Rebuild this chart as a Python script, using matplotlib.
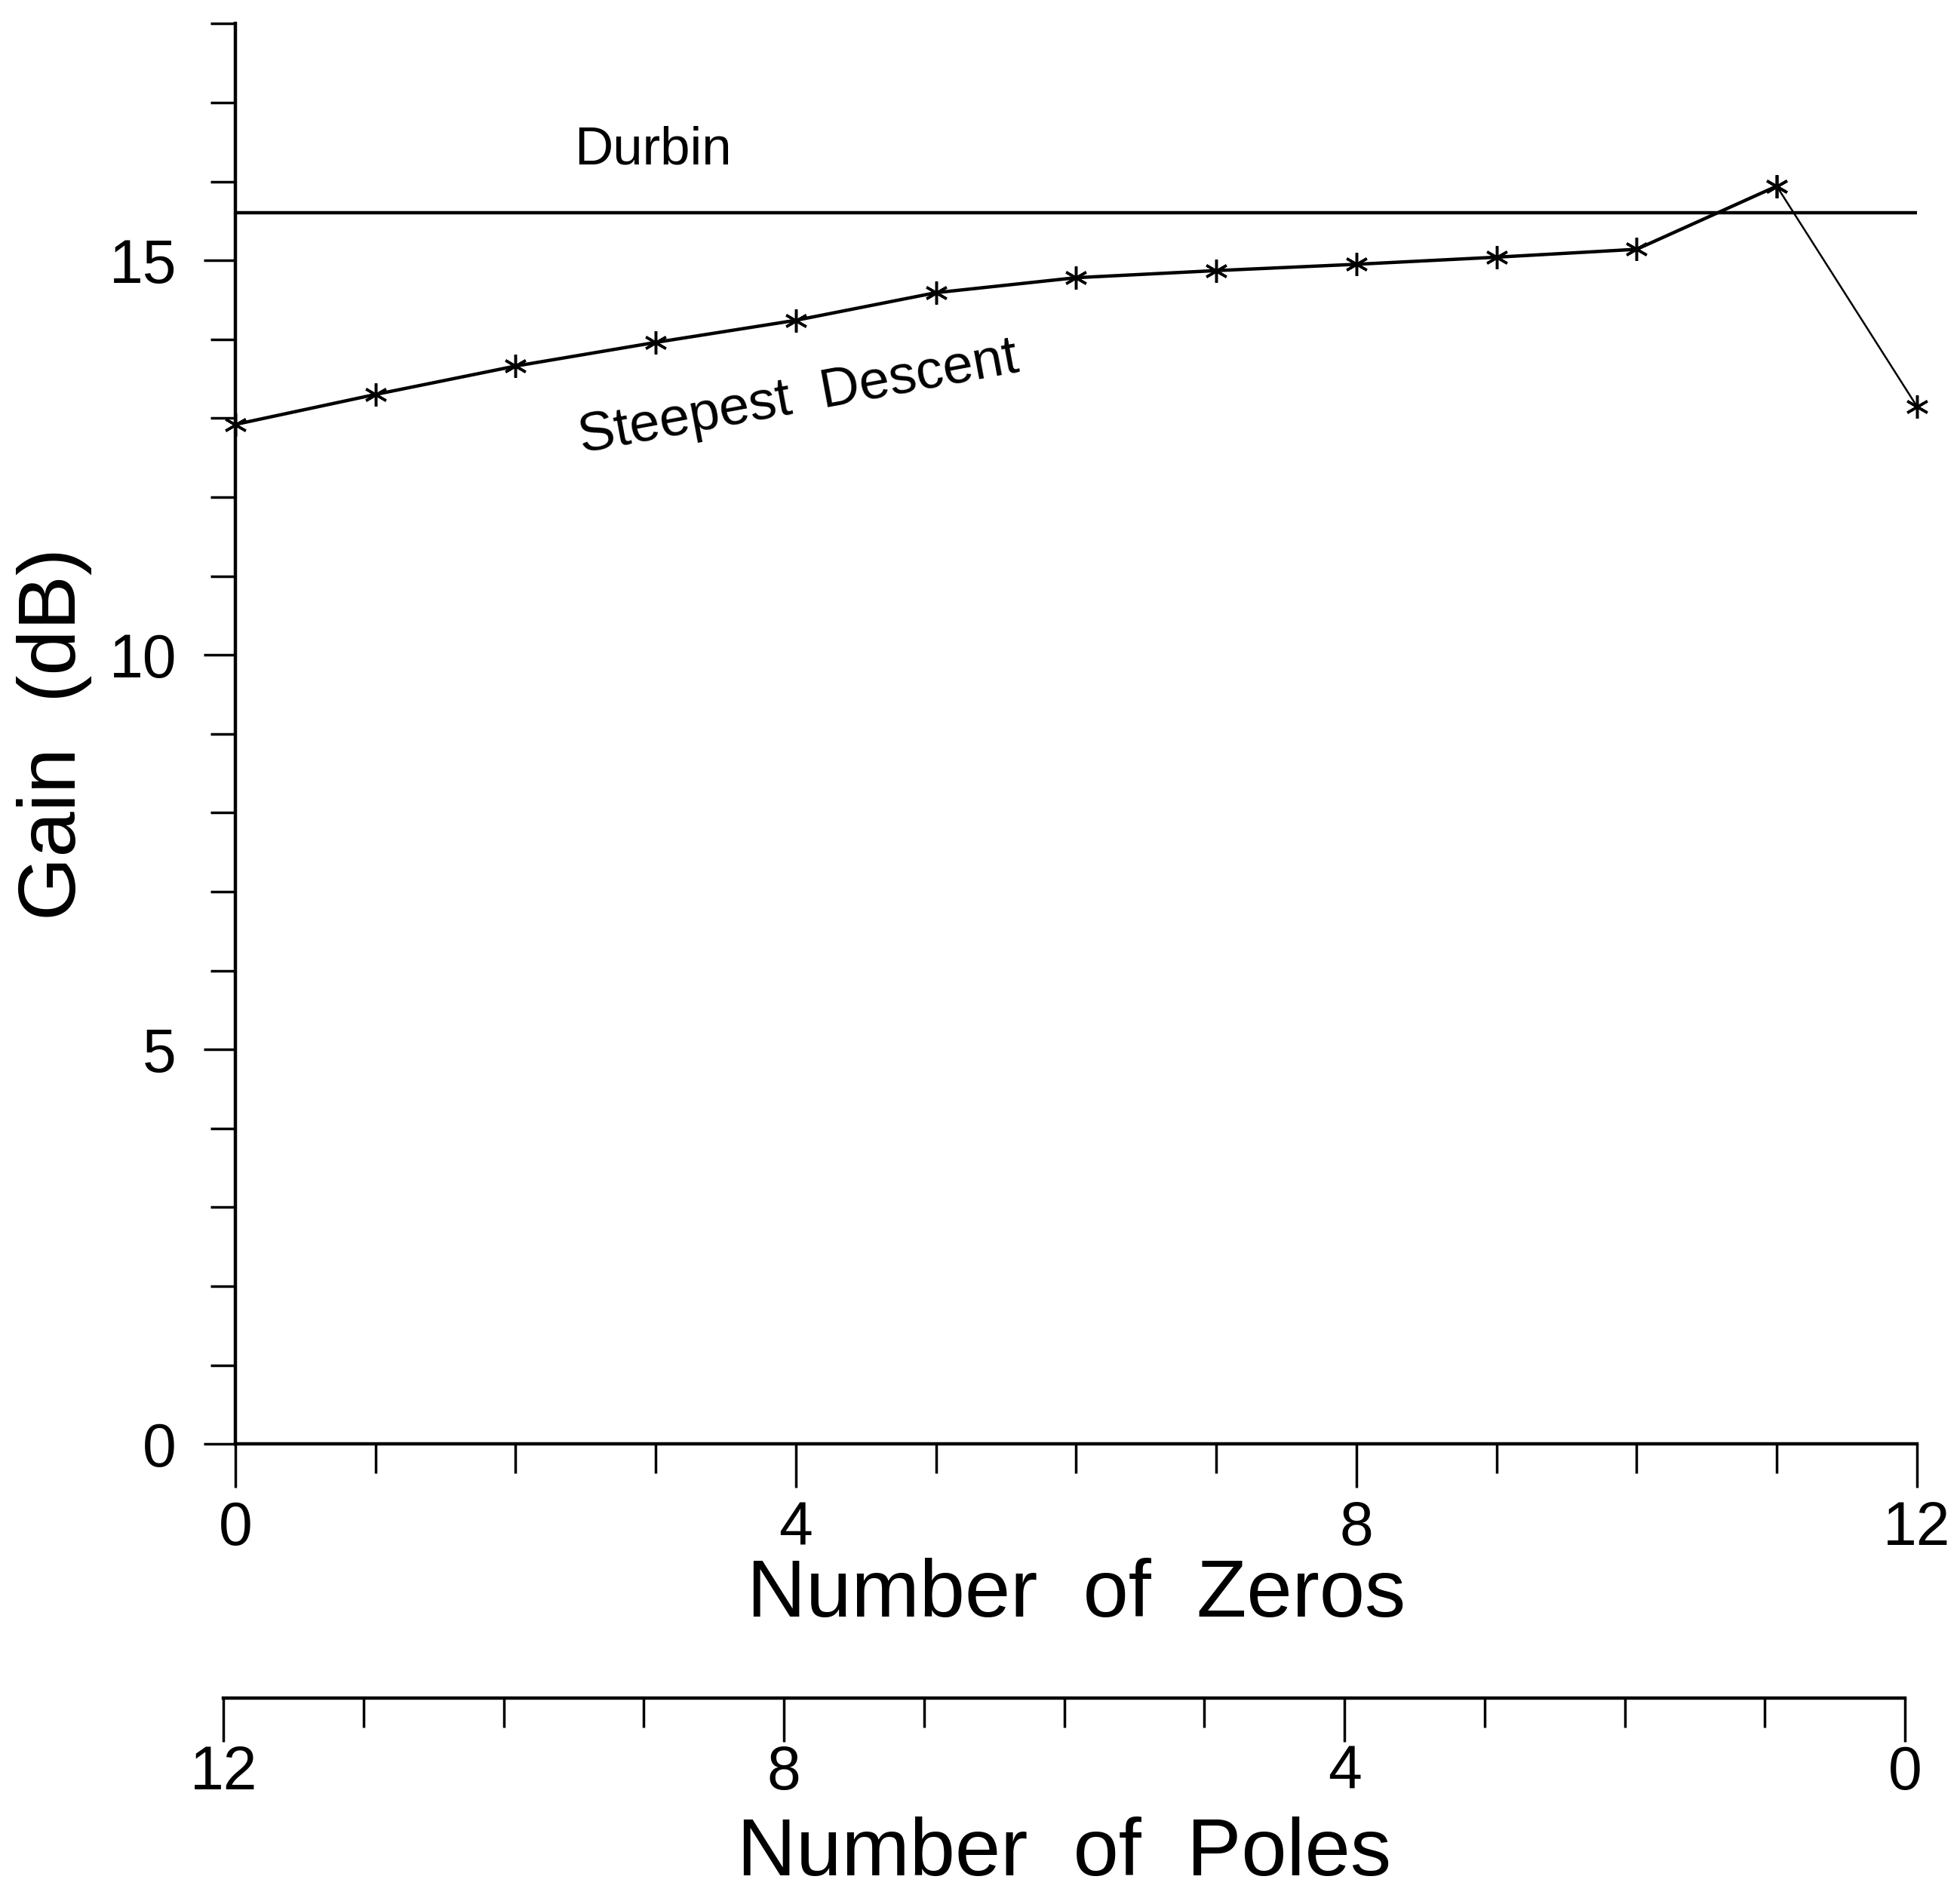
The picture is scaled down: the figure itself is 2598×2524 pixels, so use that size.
import numpy as np
import matplotlib.pyplot as plt
from matplotlib.ticker import MultipleLocator

# data
n_zeros = [0, 1, 2, 3, 4, 5, 6, 7, 8, 9, 10, 11, 12]
steepest = [12.92, 13.30, 13.66, 13.96, 14.24, 14.59, 14.78, 14.87, 14.95, 15.04, 15.14, 15.94, 13.15]
durbin_gain = 15.6

zero_ticks = [0, 4, 8, 12]
pole_ticks = [12, 8, 4, 0]
gain_ticks = [0, 5, 10, 15]

plt.rcParams['font.family'] = ['Liberation Sans', 'DejaVu Sans']

fig = plt.figure(figsize=(25.98, 25.24), dpi=100)
ax = fig.add_axes([0.12, 0.2416, 0.858, 0.746])

# Durbin reference level
ax.plot([n_zeros[0], n_zeros[-1]], [durbin_gain, durbin_gain], color='black', lw=3.2)

# steepest descent curve (last segment drawn thinner as in the scan)
ax.plot(n_zeros[:-1], steepest[:-1], color='black', lw=3.2,
        marker=(6, 2, 0), ms=22, mew=2.5, clip_on=False)
ax.plot(n_zeros[-2:], steepest[-2:], color='black', lw=1.8,
        marker=(6, 2, 0), ms=22, mew=2.5, clip_on=False)

ax.text(2.98, 16.39, 'Durbin', fontsize=51, ha='center', va='center')
ax.text(4.02, 13.25, 'Steepest  Descent', fontsize=52, ha='center', va='center',
        rotation=10.5, rotation_mode='anchor')

ax.set_xlim(0, 12)
ax.set_ylim(0, 18)
for s in ['top', 'right']:
    ax.spines[s].set_visible(False)
for s in ['left', 'bottom']:
    ax.spines[s].set_linewidth(3.2)

ax.set_xticks(zero_ticks)
ax.xaxis.set_minor_locator(MultipleLocator(1))
ax.set_yticks(gain_ticks)
ax.yaxis.set_minor_locator(MultipleLocator(1))
ax.tick_params(axis='x', which='major', direction='out', length=42, width=2.5,
               labelsize=58, pad=12)
ax.tick_params(axis='x', which='minor', direction='out', length=28, width=2.5)
ax.tick_params(axis='y', which='major', direction='out', length=30, width=2.5,
               labelsize=58, pad=26)
ax.tick_params(axis='y', which='minor', direction='out', length=24, width=2.5)

ax.set_xlabel('Number  of  Zeros', fontsize=78, labelpad=0)
ax.set_ylabel('Gain  (dB)', fontsize=78, labelpad=16)

# secondary scale for the number of poles
ax2 = fig.add_axes([0.114, 0.108, 0.858, 0.0001])
ax2.set_xlim(12, 0)
ax2.set_ylim(0, 1)
for s in ['top', 'right', 'left']:
    ax2.spines[s].set_visible(False)
ax2.spines['bottom'].set_linewidth(3.2)
ax2.set_yticks([])
ax2.set_xticks(pole_ticks)
ax2.xaxis.set_minor_locator(MultipleLocator(1))
ax2.tick_params(axis='x', which='major', direction='out', length=42, width=2.5,
                labelsize=58, pad=2)
ax2.tick_params(axis='x', which='minor', direction='out', length=28, width=2.5)
ax2.set_xlabel('Number  of  Poles', fontsize=78, labelpad=14)
ax2.patch.set_visible(False)

fig.savefig('out.png', dpi=100)
